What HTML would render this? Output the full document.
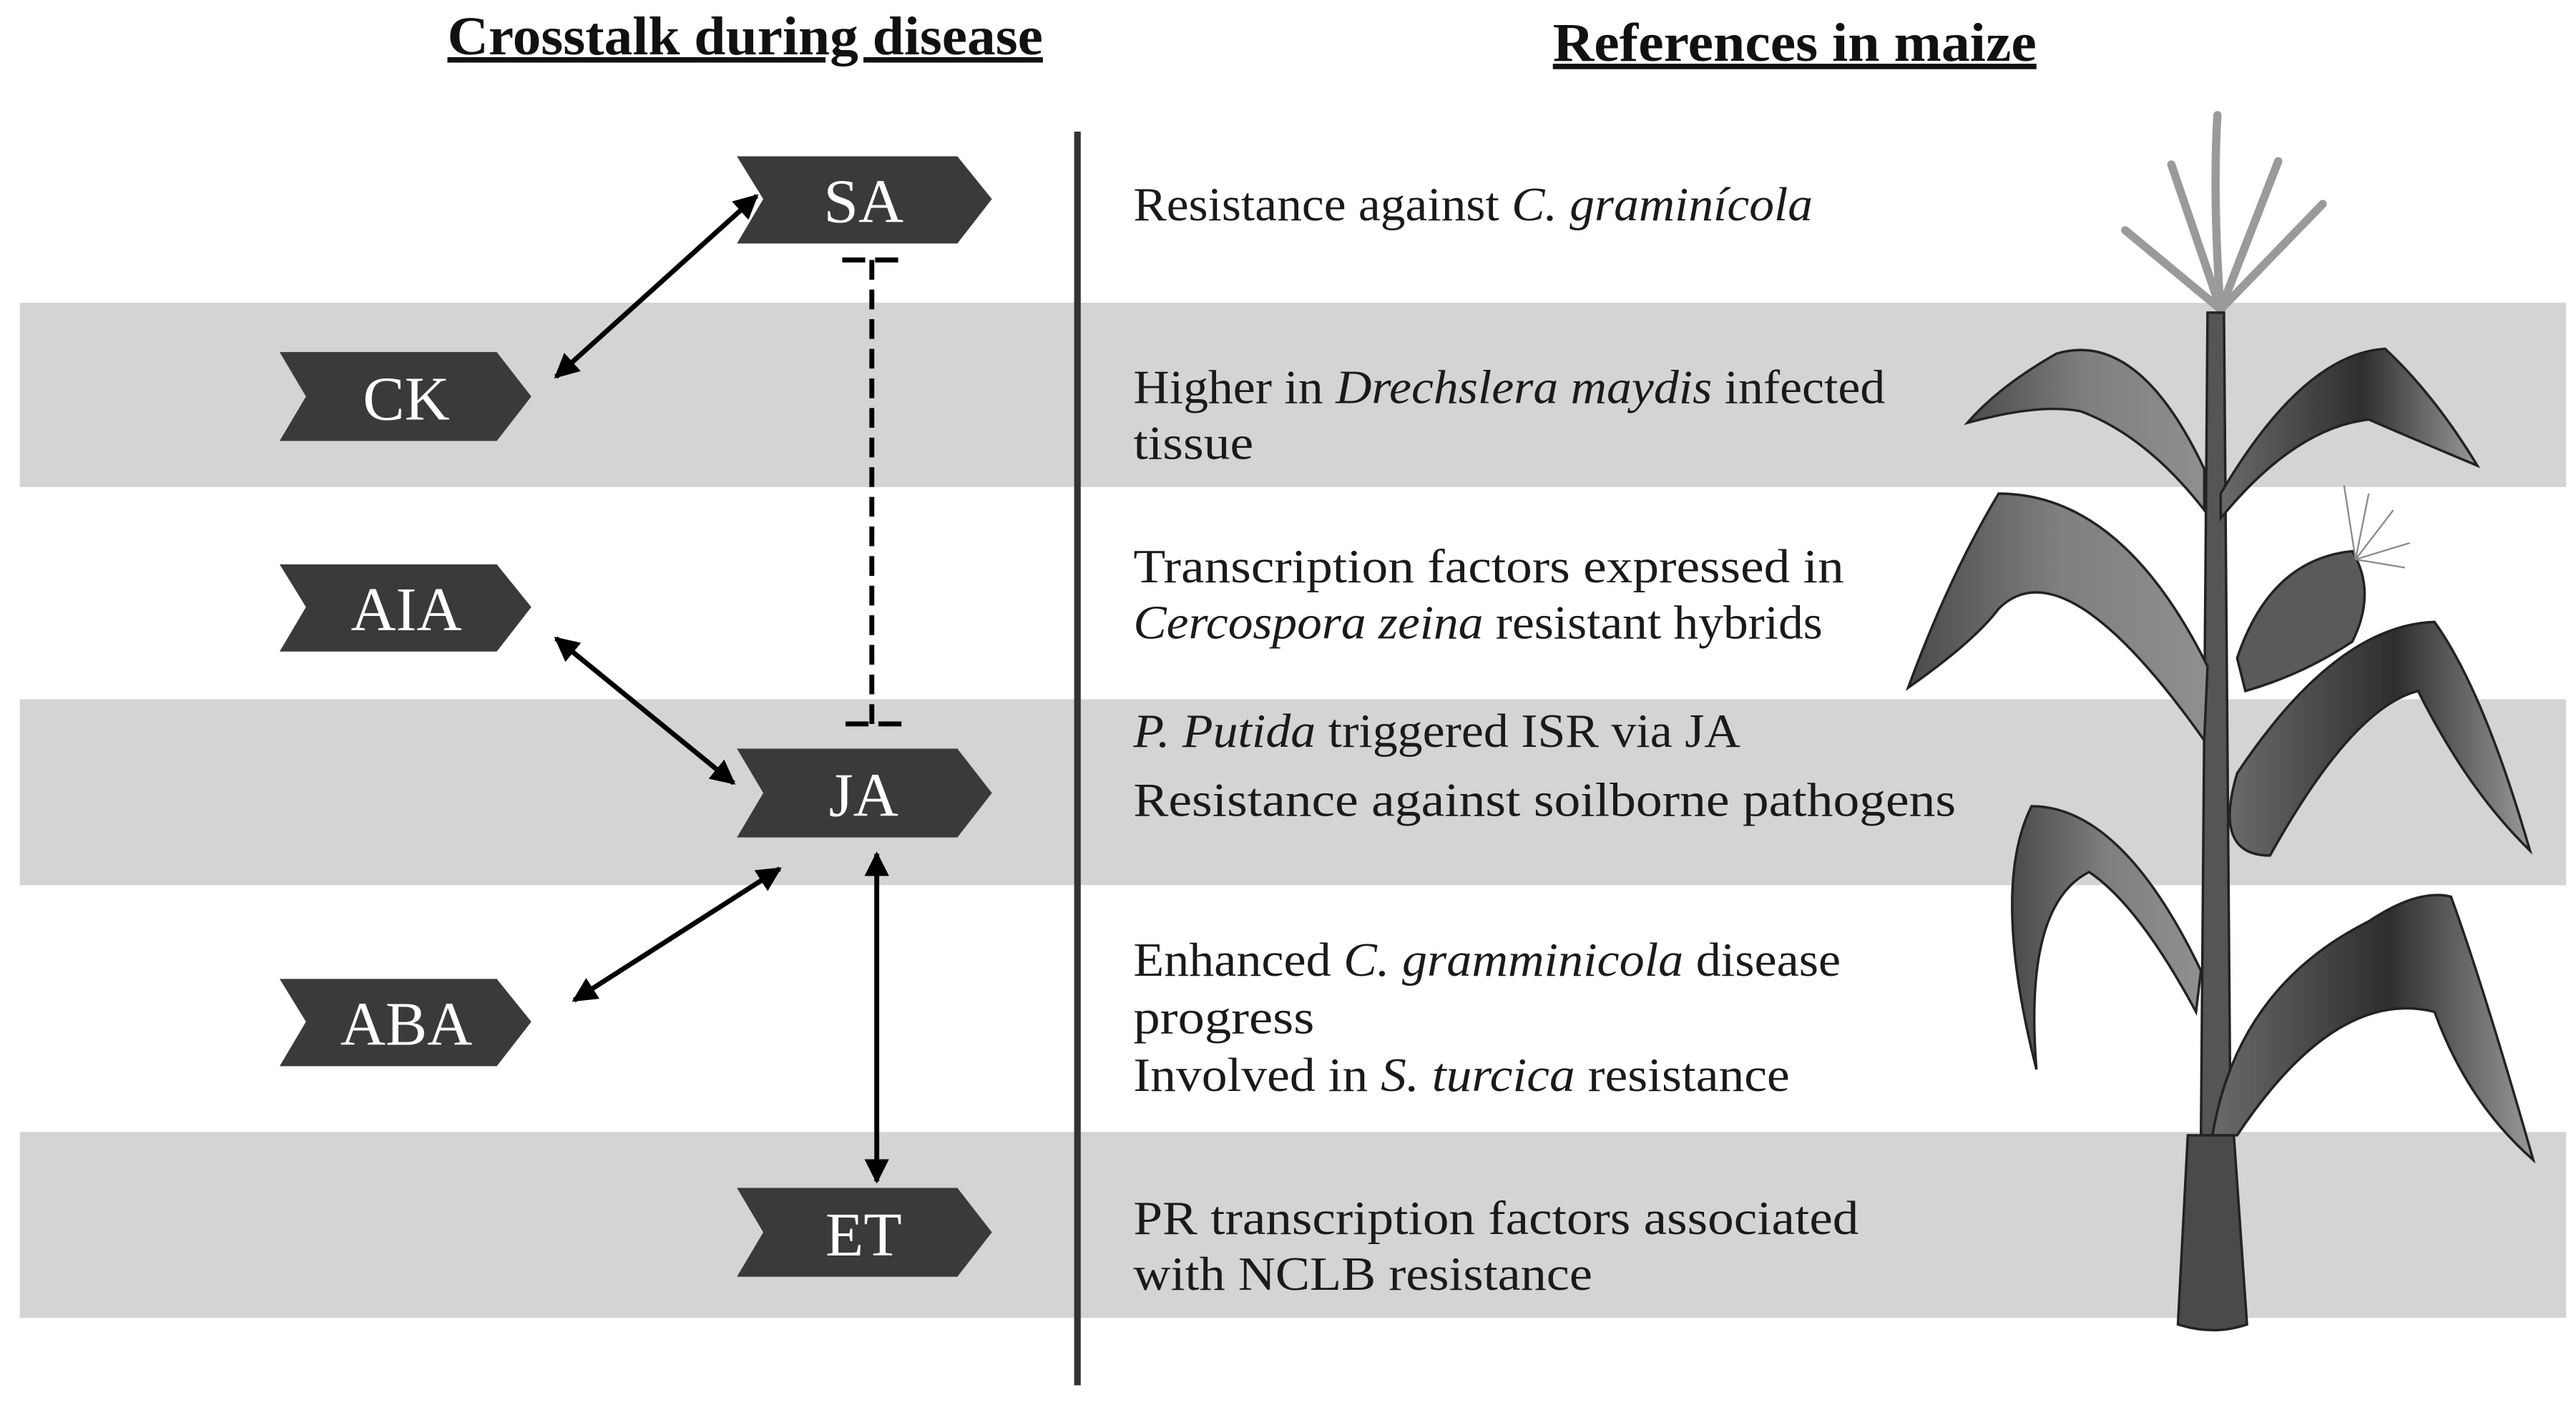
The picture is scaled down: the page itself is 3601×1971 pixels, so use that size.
<!DOCTYPE html>
<html><head><meta charset="utf-8"><style>
html,body{margin:0;padding:0;background:#fff;}
svg{display:block;}
.t{font-family:"Liberation Serif",serif;font-size:29px;fill:#1a1a1a;}
.b{font-family:"Liberation Serif",serif;font-size:38px;fill:#fff;text-anchor:middle;}
.h{font-family:"Liberation Serif",serif;font-size:33px;font-weight:bold;fill:#111;text-anchor:middle;text-decoration:underline;}
</style></head><body>
<svg width="3601" height="1971" viewBox="0 0 1566 857" preserveAspectRatio="none" xmlns="http://www.w3.org/2000/svg">
<defs>
<marker id="ah" viewBox="0 0 10 10" refX="9" refY="5" markerWidth="5" markerHeight="5" orient="auto-start-reverse"><path d="M0,0 L10,5 L0,10 z" fill="#000"/></marker>
<linearGradient id="lg1" x1="0" y1="0" x2="1" y2="0"><stop offset="0" stop-color="#6a6a6a"/><stop offset="0.55" stop-color="#2e2e2e"/><stop offset="1" stop-color="#999"/></linearGradient>
<linearGradient id="lg2" x1="0" y1="0" x2="1" y2="0"><stop offset="0" stop-color="#4a4a4a"/><stop offset="0.5" stop-color="#7f7f7f"/><stop offset="1" stop-color="#8f8f8f"/></linearGradient>
</defs>
<rect width="1566" height="857" fill="#fff"/>
<rect x="12" y="184" width="1548" height="112" fill="#d4d4d4"/>
<rect x="12" y="425" width="1548" height="113" fill="#d4d4d4"/>
<rect x="12" y="688" width="1548" height="113" fill="#d4d4d4"/>
<text class="h" x="453" y="33" textLength="362" lengthAdjust="spacingAndGlyphs">Crosstalk during disease</text>
<text class="h" x="1091" y="37" textLength="294" lengthAdjust="spacingAndGlyphs">References in maize</text>
<rect x="653" y="80" width="4" height="762" fill="#333"/>
<g fill="#3a3a3a">
<polygon points="448,95 582,95 603,121 582,148 448,148 464,121"/>
<polygon points="170,214 302,214 323,241 302,268 170,268 186,241"/>
<polygon points="170,343 302,343 323,369 302,396 170,396 186,369"/>
<polygon points="448,455 582,455 603,482 582,509 448,509 464,482"/>
<polygon points="170,595 302,595 323,621 302,648 170,648 186,621"/>
<polygon points="448,722 582,722 603,749 582,776 448,776 464,749"/>
</g>
<text class="b" x="525" y="135">SA</text>
<text class="b" x="247" y="255">CK</text>
<text class="b" x="247" y="383">AIA</text>
<text class="b" x="525" y="496">JA</text>
<text class="b" x="247" y="635">ABA</text>
<text class="b" x="525" y="763">ET</text>
<g stroke="#000" stroke-width="3" fill="none">
<line x1="460" y1="119" x2="338" y2="229" marker-start="url(#ah)" marker-end="url(#ah)"/>
<line x1="338" y1="388" x2="446" y2="476" marker-start="url(#ah)" marker-end="url(#ah)"/>
<line x1="349" y1="608" x2="474" y2="528" marker-start="url(#ah)" marker-end="url(#ah)"/>
<line x1="533" y1="519" x2="533" y2="718" marker-start="url(#ah)" marker-end="url(#ah)"/>
<line x1="530" y1="158" x2="530" y2="440" stroke-dasharray="12,6"/>
<line x1="512" y1="158" x2="548" y2="158" stroke-dasharray="14,6"/>
<line x1="514" y1="440" x2="550" y2="440" stroke-dasharray="14,6"/>
</g>
<g lengthAdjust="spacingAndGlyphs">
<text class="t" x="689" y="134" textLength="413" lengthAdjust="spacingAndGlyphs">Resistance against <tspan font-style="italic">C. graminícola</tspan></text>
<text class="t" x="689" y="245" textLength="457" lengthAdjust="spacingAndGlyphs">Higher in <tspan font-style="italic">Drechslera maydis</tspan> infected</text>
<text class="t" x="689" y="279" textLength="73" lengthAdjust="spacingAndGlyphs">tissue</text>
<text class="t" x="689" y="354" textLength="432" lengthAdjust="spacingAndGlyphs">Transcription factors expressed in</text>
<text class="t" x="689" y="388" textLength="419" lengthAdjust="spacingAndGlyphs"><tspan font-style="italic">Cercospora zeina</tspan> resistant hybrids</text>
<text class="t" x="689" y="454" textLength="369" lengthAdjust="spacingAndGlyphs"><tspan font-style="italic">P. Putida</tspan> triggered ISR via JA</text>
<text class="t" x="689" y="496" textLength="500" lengthAdjust="spacingAndGlyphs">Resistance against soilborne pathogens</text>
<text class="t" x="689" y="593" textLength="430" lengthAdjust="spacingAndGlyphs">Enhanced <tspan font-style="italic">C. gramminicola</tspan> disease</text>
<text class="t" x="689" y="628" textLength="110" lengthAdjust="spacingAndGlyphs">progress</text>
<text class="t" x="689" y="663" textLength="399" lengthAdjust="spacingAndGlyphs">Involved in <tspan font-style="italic">S. turcica</tspan> resistance</text>
<text class="t" x="689" y="750" textLength="441" lengthAdjust="spacingAndGlyphs">PR transcription factors associated</text>
<text class="t" x="689" y="784" textLength="279" lengthAdjust="spacingAndGlyphs">with NCLB resistance</text>
</g>
<!-- plant -->
<g stroke="#9a9a9a" stroke-width="5" stroke-linecap="round" fill="none">
<path d="M1350,190 Q1345,120 1348,70"/>
<path d="M1350,188 L1292,140"/>
<path d="M1350,188 L1320,100"/>
<path d="M1350,188 L1385,98"/>
<path d="M1350,188 L1412,124"/>
</g>
<g stroke="#222" stroke-width="1.5">
<path d="M1342,190 L1352,190 L1356,690 L1338,690 Z" fill="#555"/>
<path d="M1330,690 L1358,690 L1366,805 Q1346,812 1324,805 Z" fill="#4a4a4a"/>
<path d="M1340,285 Q1300,200 1250,215 Q1215,235 1196,257 Q1240,245 1265,250 Q1305,265 1340,310 Z" fill="url(#lg2)"/>
<path d="M1350,300 Q1400,215 1450,212 Q1480,240 1506,283 Q1470,268 1440,255 Q1395,260 1350,315 Z" fill="url(#lg1)"/>
<path d="M1342,405 Q1290,300 1215,300 Q1185,350 1160,418 Q1200,390 1215,370 Q1255,330 1340,450 Z" fill="url(#lg2)"/>
<path d="M1360,400 Q1380,340 1430,335 Q1445,360 1430,390 Q1400,410 1365,420 Z" fill="#5a5a5a"/>
<path d="M1360,470 Q1420,380 1480,378 Q1510,420 1538,517 Q1500,480 1470,420 Q1430,430 1380,520 Q1345,520 1360,470 Z" fill="url(#lg1)"/>
<path d="M1338,590 Q1290,490 1235,490 Q1210,540 1238,650 Q1230,550 1270,530 Q1300,550 1335,615 Z" fill="url(#lg2)"/>
<path d="M1345,690 Q1360,600 1440,560 Q1470,540 1490,545 Q1510,600 1540,705 Q1500,670 1480,615 Q1420,600 1360,690 Z" fill="url(#lg1)"/>
</g>
<g stroke="#8a8a8a" stroke-width="1">
<path d="M1432,340 L1425,295 M1432,340 L1440,300 M1432,340 L1455,310 M1432,340 L1465,330 M1432,340 L1462,345"/>
</g>
</svg>
</body></html>
